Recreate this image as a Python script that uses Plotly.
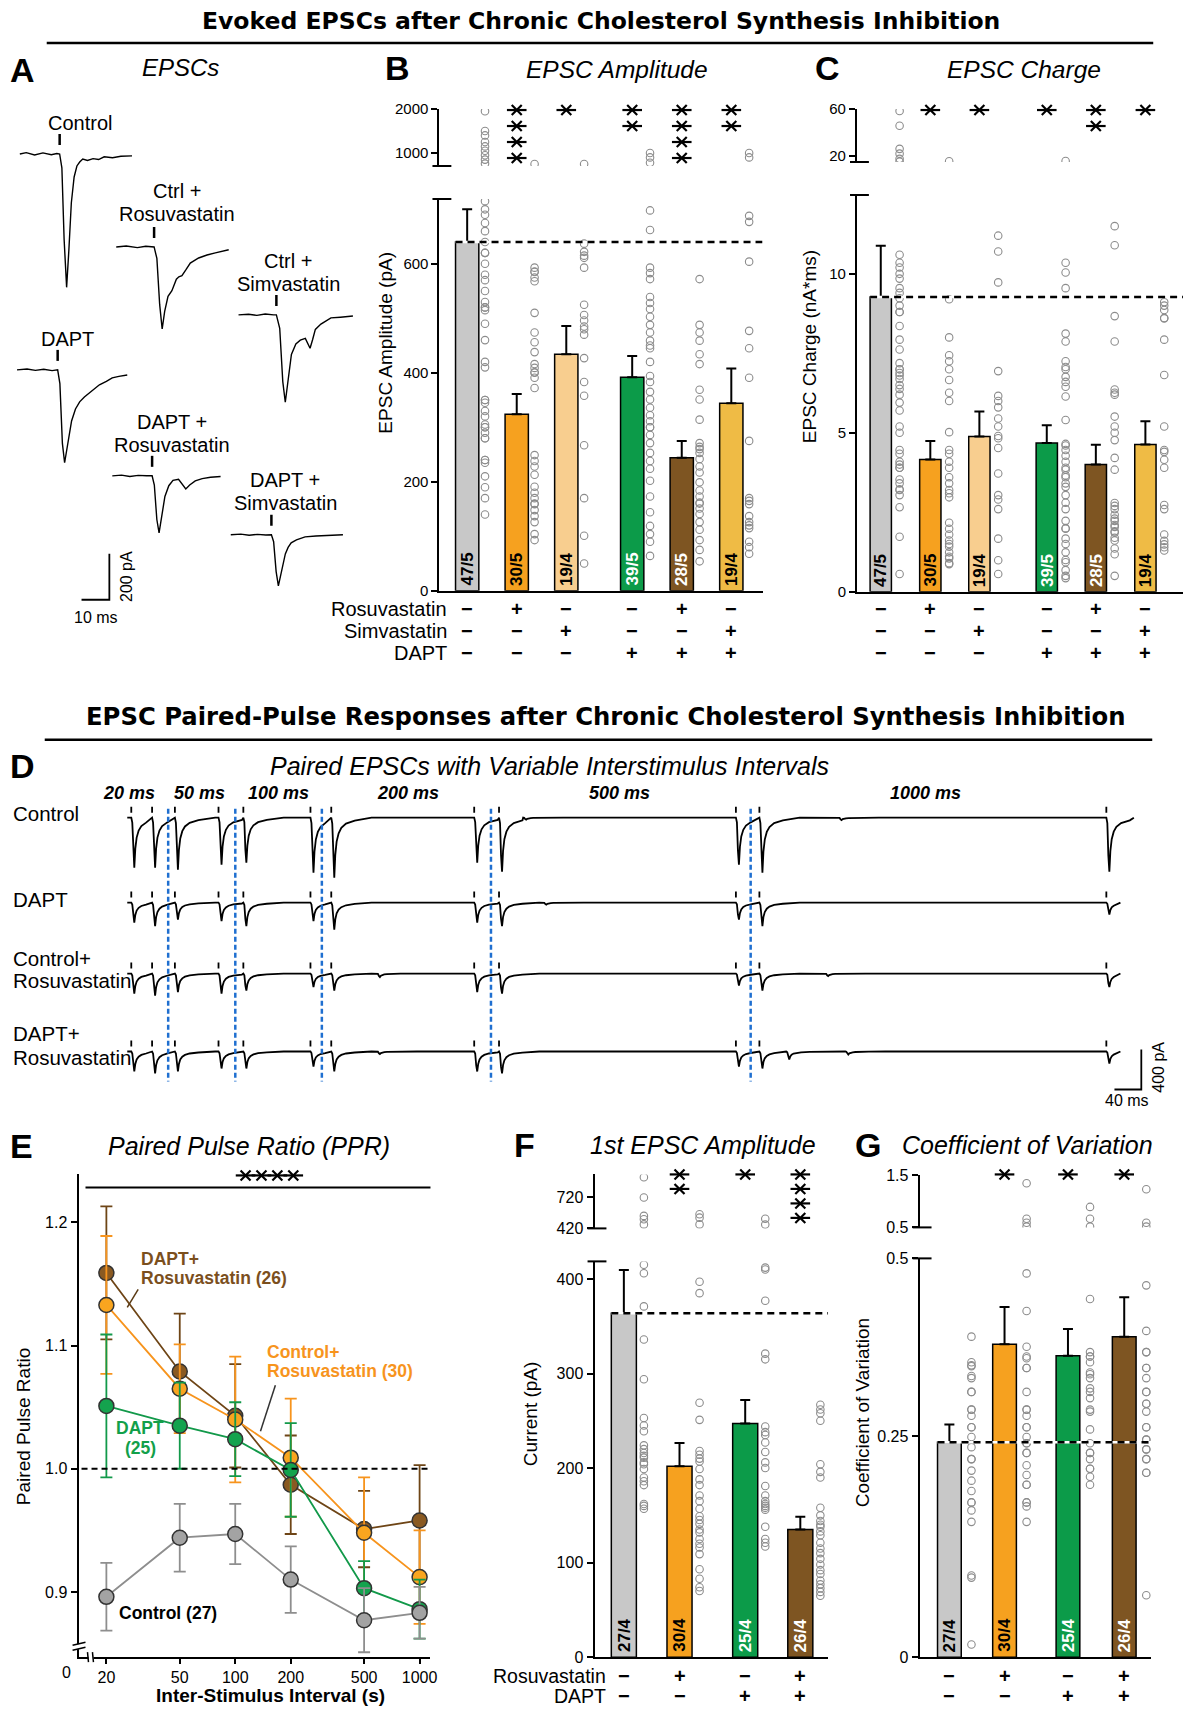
import plotly.graph_objects as go

W, H = 1200, 1721
FONT = "Liberation Sans, Arial, Helvetica, sans-serif"
NARROW = "Liberation Sans Narrow, Arial Narrow, Liberation Sans, sans-serif"
TITLEF = "DejaVu Sans, Liberation Sans, sans-serif"

GRAY = "#c8c8c8"; ORANGE = "#f6a11f"; LIGHT = "#f8ce8f"; GREEN = "#0c9b49"
BROWN = "#7e5522"; YELLOW = "#efbb45"; DOT = "#8c8c8c"

# ============================ DATA ============================
# ---- Panel A : example EPSCs (time rel. to stimulus, ms ; current, pA)
A_ctrl_t = [-14.3, -12, -9, -6, -3, -1, 0, 0.8, 1.6, 2.5, 3.3, 4.2, 5.2, 6.2, 7.2, 8.3, 10, 12, 14, 16, 19, 22, 26]
A_ctrl_i = [0, 6, -4, 5, -3, 2, 0, -60, -370, -580, -420, -212, -100, -52, -35, -22, -28, -20, -24, -12, -16, -10, -8]
A_rosu_t = [-13.6, -10, -6, -3, 0, 1.0, 2.0, 2.9, 3.8, 5.0, 6.4, 8.0, 8.9, 10, 11.4, 13, 16, 19, 22, 26.8]
A_rosu_i = [0, 4, -3, 3, 0, -50, -250, -357, -280, -215, -190, -140, -130, -125, -100, -70, -48, -35, -26, -12]
A_simva_t = [-13.6, -10, -7, -4, -1, 0, 1.2, 2.3, 3.2, 4.2, 5.4, 7, 8.6, 10.4, 11.3, 12.1, 13, 14, 16, 19.6, 23, 27.5]
A_simva_i = [0, 3, -2, 4, 0, 0, -58, -290, -380, -290, -172, -126, -110, -102, -122, -145, -108, -63, -40, -13, -10, -5]
A_dapt_t = [-14.6, -11, -8, -5, -2, 0, 0.8, 1.7, 2.5, 3.5, 5, 6.4, 7.9, 9.6, 11.4, 13, 15, 17.5, 19.6, 22, 25]
A_dapt_i = [0, 4, -2, 3, -3, 0, -60, -320, -404, -330, -222, -170, -139, -118, -100, -85, -65, -50, -35, -28, -22]
A_drosu_t = [-14.3, -11, -8, -5, -2, 0, 0.8, 1.7, 2.5, 3.4, 4.6, 6, 7.5, 9.5, 11, 12.1, 13.5, 15.5, 18, 21, 24.6]
A_drosu_i = [0, 3, -3, 2, 0, 0, -40, -190, -248, -180, -90, -43, -20, -15, -40, -57, -40, -22, -12, -6, -3]
A_dsimva_t = [-14.6, -11, -8, -5, -2, 0, 0.8, 1.7, 2.5, 3.4, 4.2, 5, 6, 7.1, 9, 12.1, 16, 20, 25.7]
A_dsimva_i = [0, 3, -2, 2, -1, 0, -30, -160, -222, -170, -115, -83, -55, -35, -22, -9, -5, -3, 0]
A_labels = [["Control"], ["Ctrl +", "Rosuvastatin"], ["Ctrl +", "Simvastatin"],
            ["DAPT"], ["DAPT +", "Rosuvastatin"], ["DAPT +", "Simvastatin"]]

# ---- Panel B : EPSC amplitude (pA)
B_mean = [640, 324, 434, 392, 244, 344]
B_sem = [60, 37, 52, 39, 31, 64]
B_n = ["47/5", "30/5", "19/4", "39/5", "28/5", "19/4"]
B_stars = [0, 4, 1, 2, 4, 2]
B_pts_ctrl = [1950, 1500, 1400, 1250, 1150, 1050, 950, 850, 760, 715, 700, 690, 675, 660, 640, 620, 620, 600, 580,
              570, 550, 530, 520, 520, 515, 490, 460, 420, 410, 350, 350, 345, 330, 320, 305, 300, 300, 290, 280,
              280, 240, 240, 235, 210, 190, 170, 140]
B_pts_rosu = [750, 593, 586, 585, 575, 568, 510, 474, 456, 438, 416, 409, 401, 400, 391, 372, 249, 238, 228, 213,
              191, 180, 170, 160, 159, 148, 137, 126, 104, 93]
B_pts_simva = [750, 637, 622, 615, 611, 593, 525, 506, 496, 485, 480, 470, 427, 383, 358, 267, 170, 101, 50]
B_pts_dapt = [1000, 900, 780, 698, 662, 593, 583, 572, 539, 528, 517, 503, 488, 474, 459, 450, 445, 420, 394, 383,
              365, 351, 336, 322, 311, 300, 300, 286, 271, 253, 238, 224, 202, 173, 144, 119, 104, 90, 64]
B_pts_drosu = [572, 488, 474, 459, 434, 416, 369, 351, 314, 271, 264, 260, 253, 242, 228, 217, 199, 184, 173, 162,
               160, 151, 141, 126, 112, 93, 75, 54]
B_pts_dsimva = [1000, 900, 688, 677, 604, 477, 445, 391, 275, 170, 165, 159, 137, 126, 120, 115, 90, 80, 68]

# treatment table for B and C
BC_rosu = ["−", "+", "−", "−", "+", "−"]
BC_simva = ["−", "−", "+", "−", "−", "+"]
BC_dapt = ["−", "−", "−", "+", "+", "+"]

# ---- Panel C : EPSC charge (nA*ms)
C_mean = [9.27, 4.16, 4.88, 4.68, 4.0, 4.63]
C_sem = [1.61, 0.58, 0.79, 0.56, 0.62, 0.73]
C_n = ["47/5", "30/5", "19/4", "39/5", "28/5", "19/4"]
C_stars = [0, 1, 1, 1, 2, 1]
C_pts_ctrl = [58.3, 45.8, 26.1, 22, 17.6, 15.2, 10.6, 10.35, 10.2, 10.0, 9.85, 9.55, 9.4, 9.23, 9.0, 8.8, 8.8, 8.36,
              7.93, 7.62, 7.19, 7.0, 7.0, 6.88, 6.8, 6.69, 6.5, 6.38, 6.2, 5.95, 5.7, 5.2, 5.0, 4.46, 4.34, 4.09,
              4.0, 3.9, 3.9, 3.53, 3.41, 3.22, 3.2, 3.04, 2.66, 1.73, 0.56]
C_pts_rosu = [15.6, 9.2, 8.0, 7.44, 7.25, 7.0, 6.66, 6.26, 6.0, 5.02, 4.46, 4.34, 4.09, 3.9, 3.6, 3.41, 3.2, 3.1,
              2.97, 2.17, 1.98, 1.8, 1.61, 1.5, 1.42, 1.24, 1.1, 1.05, 0.9, 0.87]
C_pts_simva = [11.2, 10.7, 9.73, 6.94, 6.16, 6.0, 5.8, 5.45, 5.2, 4.9, 4.83, 4.52, 3.72, 3.04, 2.9, 2.6, 1.67, 0.99, 0.56]
C_pts_dapt = [15.8, 10.35, 10.04, 9.55, 8.12, 7.87, 7.25, 7.07, 7.0, 6.76, 6.6, 6.45, 6.14, 5.4, 4.65, 4.6, 4.46,
              4.28, 4.09, 3.9, 3.84, 3.66, 3.6, 3.41, 3.3, 3.04, 2.8, 2.6, 2.23, 2.0, 1.98, 1.67, 1.5, 1.24, 1.0,
              0.93, 0.68, 0.5, 0.43]
C_pts_drosu = [11.5, 10.9, 8.67, 7.87, 6.36, 6.26, 6.2, 5.51, 5.2, 5.0, 4.77, 4.21, 3.84, 2.79, 2.7, 2.6, 2.42, 2.3,
               2.23, 2.1, 2.04, 1.9, 1.86, 1.7, 1.61, 1.36, 1.18, 0.5]
C_pts_dsimva = [9.11, 9.0, 8.86, 8.61, 8.6, 7.93, 6.82, 5.2, 4.46, 4.4, 4.15, 3.9, 2.73, 2.6, 1.8, 1.6, 1.49, 1.4, 1.3]

# ---- Panel D : paired EPSC sweeps (display time, ms ; current, pA)
D_stim_ms = [6, 37, 71, 136, 173, 273, 304, 517, 554, 907, 942, 1459]
D_sweep_ms = [61, 161, 290, 542, 929]
D_tmpl_t = [0, 1.5, 3, 4.5, 6, 8, 11, 15, 22, 35, 60]
D_tmpl_v = [0, -0.1, -0.7, -1.0, -0.62, -0.4, -0.26, -0.17, -0.1, -0.05, 0]
D_amp_ctrl = [500, 500, 520, 470, 450, 550, 600, 450, 540, 470, 550, 540]
D_amp_dapt = [200, 235, 170, 185, 235, 185, 270, 200, 235, 170, 235, 120]
D_amp_crosu = [200, 220, 185, 200, 170, 135, 170, 185, 200, 120, 170, 135]
D_amp_drosu = [200, 220, 200, 170, 170, 150, 200, 200, 220, 150, 170, 120]
D_mini_ctrl_t = [590, 1060]; D_mini_ctrl_a = [20, 25]
D_mini_dapt_t = [620]; D_mini_dapt_a = [20]
D_mini_crosu_t = [372, 1040]; D_mini_crosu_a = [35, 25]
D_mini_drosu_t = [372, 982, 1070]; D_mini_drosu_a = [25, 80, 30]
D_isi_labels = ["20 ms", "50 ms", "100 ms", "200 ms", "500 ms", "1000 ms"]

# ---- Panel E : paired pulse ratio
E_isi = [20, 50, 100, 200, 500, 1000]
E_ctrl = [0.896, 0.944, 0.947, 0.910, 0.877, 0.883]
E_ctrl_sem = [0.0275, 0.0275, 0.0245, 0.027, 0.026, 0.021]
E_crosu = [1.133, 1.065, 1.040, 1.009, 0.948, 0.912]
E_crosu_sem = [0.056, 0.036, 0.051, 0.048, 0.045, 0.038]
E_drosu = [1.159, 1.079, 1.043, 0.987, 0.951, 0.958]
E_drosu_sem = [0.054, 0.047, 0.042, 0.040, 0.031, 0.045]
E_dapt = [1.051, 1.035, 1.024, 0.999, 0.903, 0.886]
E_dapt_sem = [0.058, 0.035, 0.030, 0.038, 0.022, 0.024]

# ---- Panel F : 1st EPSC amplitude (pA)
F_mean = [363.8, 202, 247, 135]
F_sem = [45.7, 24.6, 25, 13.5]
F_n = ["27/4", "30/4", "25/4", "26/4"]
F_stars = [0, 2, 1, 4]
F_pts_ctrl = [916, 720, 541, 508, 459, 415, 406, 371, 336, 294, 253, 245, 239, 224, 220, 216, 213, 211, 206, 204,
              199, 190, 186, 182, 162, 160, 157]
F_pts_crosu = [557, 524, 459, 397, 385, 269, 251, 218, 214, 210, 207, 199, 188, 182, 171, 165, 157, 149, 145, 141,
               135, 132, 125, 120, 116, 109, 93, 83, 74, 70]
F_pts_dapt = [513, 457, 412, 410, 377, 321, 315, 244, 238, 235, 227, 217, 206, 200, 181, 171, 165, 162, 160, 158,
              156, 138, 125, 121, 117]
F_pts_drosu = [267, 262, 258, 250, 204, 196, 190, 158, 150, 144, 140, 138, 133, 129, 121, 115, 110, 104, 98, 92,
               88, 81, 77, 73, 69, 65]
FG_rosu = ["−", "+", "−", "+"]
FG_dapt = ["−", "−", "+", "+"]

# ---- Panel G : coefficient of variation
G_mean = [0.243, 0.354, 0.341, 0.3625]
G_sem = [0.020, 0.042, 0.030, 0.0445]
G_n = ["27/4", "30/4", "25/4", "26/4"]
G_stars = [0, 1, 1, 1]
G_pts_ctrl = [0.3625, 0.3335, 0.33, 0.329, 0.318, 0.3156, 0.30, 0.30, 0.28, 0.28, 0.273, 0.26, 0.26, 0.249, 0.2375,
              0.224, 0.224, 0.211, 0.1996, 0.188, 0.175, 0.175, 0.166, 0.153, 0.0924, 0.09, 0.0143]
G_pts_crosu = [1.35, 0.667, 0.59, 0.515, 0.434, 0.3915, 0.351, 0.34, 0.338, 0.327, 0.327, 0.30, 0.28, 0.28, 0.273,
               0.26, 0.26, 0.249, 0.242, 0.242, 0.231, 0.231, 0.217, 0.206, 0.195, 0.195, 0.175, 0.175, 0.1705, 0.153]
G_pts_dapt = [0.894, 0.667, 0.515, 0.405, 0.345, 0.34, 0.34, 0.3335, 0.322, 0.32, 0.3156, 0.304, 0.30, 0.293, 0.28,
              0.2777, 0.2576, 0.242, 0.231, 0.231, 0.224, 0.213, 0.213, 0.204, 0.195]
G_pts_drosu = [1.235, 0.59, 0.515, 0.4205, 0.369, 0.345, 0.345, 0.327, 0.327, 0.3156, 0.30, 0.30, 0.2866, 0.2866,
               0.2777, 0.26, 0.26, 0.246, 0.246, 0.235, 0.235, 0.224, 0.224, 0.2085, 0.2085, 0.07]

# ============================ HELPERS ============================
fig = go.Figure()
annots, shapes, axes = [], [], {}
STAR_X, STAR_Y = [], []


def Y(y):
    # small vertical calibration of the page layout
    return y * 1.01 - 9


def xp(x):
    return x / W


def yp(y):
    return 1 - Y(y) / H


def ann(x, y, s, size=20, color="black", xanchor="center", yanchor="middle", angle=0,
        family=FONT, xref="paper", yref="paper", yshift=0):
    annots.append(dict(x=xp(x) if xref == "paper" else x, y=yp(y) if yref == "paper" else y,
                       xref=xref, yref=yref, text=s, showarrow=False,
                       font=dict(family=family, size=size, color=color),
                       xanchor=xanchor, yanchor=yanchor, textangle=angle, yshift=yshift))


def seg(x0, y0, x1, y1, color="black", width=2, dash=None):
    ln = dict(color=color, width=width)
    if dash:
        ln["dash"] = dash
    shapes.append(dict(type="line", xref="paper", yref="paper", x0=xp(x0), y0=yp(y0),
                       x1=xp(x1), y1=yp(y1), line=ln))


def make_axes(k, xd, yd, xr, yr, xopt=None, yopt=None, raw=False):
    xn, yn = ("xaxis", "yaxis") if k == 1 else (f"xaxis{k}", f"yaxis{k}")
    xid, yid = ("x", "y") if k == 1 else (f"x{k}", f"y{k}")
    y0, y1 = (yd if raw else (Y(yd[0]), Y(yd[1])))
    xa = dict(domain=[xd[0] / W, xd[1] / W], range=xr, anchor=yid, visible=False,
              showgrid=False, zeroline=False, fixedrange=True)
    ya = dict(domain=[max(0.0, 1 - y1 / H), min(1.0, 1 - y0 / H)], range=yr, anchor=xid, visible=False,
              showgrid=False, zeroline=False, fixedrange=True)
    if xopt:
        xa.update(xopt)
    if yopt:
        ya.update(yopt)
    axes[xn] = xa
    axes[yn] = ya
    return xid, yid


def yaxis_style(vals, texts, size):
    return dict(visible=True, showline=True, linecolor="black", linewidth=2, ticks="outside",
                ticklen=6, tickwidth=1.8, tickcolor="black", tickvals=vals, ticktext=texts,
                tickfont=dict(family=FONT, size=size, color="black"))


XLINE = dict(visible=True, showline=True, linecolor="black", linewidth=2, ticks="",
             showticklabels=False)


def star(xpx, ypx):
    STAR_X.append(xpx)
    STAR_Y.append(Y(ypx))


def bar_panel(kl, ku, xdom, ydl, ydu, xr, yrl, yru, pos, means, sems, pts, colors, ncolors,
              nlabels, bw, doff, tl, tu, tsize, stars, star_y0, star_dy, sign_rows, sign_ys,
              capx):
    xl, yl = make_axes(kl, xdom, ydl, xr, yrl, XLINE, yaxis_style(tl[0], tl[1], tsize))
    xu, yu = make_axes(ku, xdom, ydu, xr, yru, None, yaxis_style(tu[0], tu[1], tsize))
    fig.add_trace(go.Bar(x=pos, y=means, width=bw, xaxis=xl, yaxis=yl, showlegend=False,
                         marker=dict(color=colors, line=dict(color="black", width=1.5)),
                         error_y=dict(type="data", array=sems, arrayminus=[0] * len(pos),
                                      symmetric=False, color="black", thickness=2, width=5)))
    for i, vals in enumerate(pts):
        lo = [v for v in vals if v <= yrl[1]]
        hi = [v for v in vals if v > yrl[1]]
        for vv, xa_, ya_ in ((lo, xl, yl), (hi, xu, yu)):
            if vv:
                fig.add_trace(go.Scatter(x=[pos[i] + doff] * len(vv), y=vv, mode="markers",
                                         xaxis=xa_, yaxis=ya_, showlegend=False,
                                         marker=dict(symbol="circle-open", size=7.5, color=DOT,
                                                     line=dict(width=1.1))))
    # control-mean reference line
    fig.add_trace(go.Scatter(x=[pos[0] - bw / 2, xr[1]], y=[means[0], means[0]], mode="lines",
                             xaxis=xl, yaxis=yl, showlegend=False,
                             line=dict(color="white", width=2.5)))
    fig.add_trace(go.Scatter(x=[pos[0] - bw / 2, xr[1]], y=[means[0], means[0]], mode="lines",
                             xaxis=xl, yaxis=yl, showlegend=False,
                             line=dict(color="black", width=2.5, dash="7px,5px")))
    for i, nl in enumerate(nlabels):
        ann(pos[i], 0, f"<b>{nl}</b>", size=17, color=ncolors[i], angle=-90, family=NARROW,
            xref=xl, yref=yl, yanchor="bottom", yshift=3)
    for i, c in enumerate(stars):
        sx = xdom[0] + (pos[i] - xr[0]) / (xr[1] - xr[0]) * (xdom[1] - xdom[0])
        for j in range(c):
            star(sx, star_y0 + j * star_dy)
    for row, yy in zip(sign_rows, sign_ys):
        for i, s in enumerate(row):
            ann(pos[i], yy, f"<b>{s}</b>", size=20, xref=xl)
    # axis-break caps
    seg(capx - 7, ydu[1], capx + 12, ydu[1], width=2)
    seg(capx - 7, ydl[0], capx + 12, ydl[0], width=2)
    return xl, yl


# ============================ TITLES ============================
ann(605, 21, "<b>Evoked EPSCs after Chronic Cholesterol Synthesis Inhibition</b>", size=23.5, family=TITLEF)
seg(47, 43, 1160, 43, width=2.5)
ann(610, 717, "<b>EPSC Paired-Pulse Responses after Chronic Cholesterol Synthesis Inhibition</b>", size=24.3,
    family=TITLEF)
seg(45, 740, 1159, 740, width=2.5)

# ============================ PANEL A ============================
A_PXMS, A_PXPA = 2.8, 0.23
xa_, ya_ = make_axes(1, (0, 380), (90, 650), [0, 380 / A_PXMS], [-650 / A_PXPA, -90 / A_PXPA])
A_traces = [(A_ctrl_t, A_ctrl_i), (A_rosu_t, A_rosu_i), (A_simva_t, A_simva_i),
            (A_dapt_t, A_dapt_i), (A_drosu_t, A_drosu_i), (A_dsimva_t, A_dsimva_i)]
A_place = [(60, 154, 80, [123]), (155, 247, 178, [191, 214]), (278, 315, 290, [261, 284]),
           (58, 370, 68, [339]), (153, 476, 173, [422, 445]), (273, 535, 287, [480, 503])]
for (tt, ii), (sx, by, lx, lys), lab in zip(A_traces, A_place, A_labels):
    x0 = sx / A_PXMS
    y0 = -by / A_PXPA
    fig.add_trace(go.Scatter(x=[x0 + t for t in tt], y=[y0 + v for v in ii], mode="lines",
                             xaxis=xa_, yaxis=ya_, showlegend=False,
                             line=dict(color="black", width=1.4)))
    fig.add_trace(go.Scatter(x=[x0, x0], y=[y0 + 9 / A_PXPA, y0 + 20 / A_PXPA], mode="lines",
                             xaxis=xa_, yaxis=ya_, showlegend=False,
                             line=dict(color="black", width=2.5)))
    for txt, ly in zip(lab, lys):
        ann(lx, ly, txt, size=20)
sbx, sby = 110 / A_PXMS, -600 / A_PXPA
fig.add_trace(go.Scatter(x=[sbx - 10, sbx, sbx], y=[sby, sby, sby + 200], mode="lines",
                         xaxis=xa_, yaxis=ya_, showlegend=False, line=dict(color="black", width=1.8)))
ann(128, 577, "200 pA", size=16, angle=-90)
ann(97, 618, "10 ms", size=16)
ann(23, 70, "<b>A</b>", size=34)
ann(182, 67, "<i>EPSCs</i>", size=24)

# ============================ PANEL B ============================
B_pos = [0, 1, 2, 3.33, 4.33, 5.33]
B_col = [GRAY, ORANGE, LIGHT, GREEN, BROWN, YELLOW]
N_col6 = ["black", "black", "black", "white", "white", "black"]
xb, yb = bar_panel(2, 3, (442, 767), (199, 591), (109, 166), [-0.56, 5.96], [0, 719], [705, 2000],
                   B_pos, B_mean, B_sem,
                   [B_pts_ctrl, B_pts_rosu, B_pts_simva, B_pts_dapt, B_pts_drosu, B_pts_dsimva],
                   B_col, N_col6, B_n, 0.47, 0.36,
                   ([0, 200, 400, 600], ["0", "200", "400", "600"]), ([1000, 2000], ["1000", "2000"]), 15,
                   B_stars, 110, 16, [BC_rosu, BC_simva, BC_dapt], [609, 631, 653], 442)
for lab, yy in zip(["Rosuvastatin", "Simvastatin", "DAPT"], [609, 631, 653]):
    ann(452, yy, lab, size=20, xanchor="right")
ann(388, 343, "EPSC Amplitude (pA)", size=19, angle=-90)
ann(400, 68, "<b>B</b>", size=34)
ann(621, 69, "<i>EPSC Amplitude</i>", size=24.5)

# ============================ PANEL C ============================
C_pos = [0, 1, 1.99, 3.35, 4.34, 5.34]
xc, yc = bar_panel(4, 5, (862, 1190), (195, 592), (109, 162), [-0.48, 6.1], [0, 12.48], [14.9, 60],
                   C_pos, C_mean, C_sem,
                   [C_pts_ctrl, C_pts_rosu, C_pts_simva, C_pts_dapt, C_pts_drosu, C_pts_dsimva],
                   B_col, N_col6, C_n, 0.43, 0.38,
                   ([0, 5, 10], ["0", "5", "10"]), ([20, 60], ["20", "60"]), 15,
                   C_stars, 110, 16, [BC_rosu, BC_simva, BC_dapt], [609, 631, 653], 862)
ann(815, 347, "EPSC Charge (nA*ms)", size=19, angle=-90)
ann(832, 68, "<b>C</b>", size=34)
ann(1030, 69, "<i>EPSC Charge</i>", size=24.5)

# ============================ PANEL D ============================
D_PXMS, D_PXPA = 0.675, 0.1
xd_, yd_ = make_axes(6, (100, 1180), (780, 1110), [(100 - 128) / D_PXMS, (1180 - 128) / D_PXMS],
                     [-1110 / D_PXPA, -780 / D_PXPA])


def d_row(amps, mini_t, mini_a, t_end):
    ev = sorted(list(zip(D_stim_ms, amps)) + list(zip(mini_t, mini_a)))
    xs, ys = [0.0], [0.0]
    for k, (s, a) in enumerate(ev):
        nxt = ev[k + 1][0] if k + 1 < len(ev) else t_end
        if s > xs[-1]:
            xs.append(s)
            ys.append(0.0)
        for tt, tv in zip(D_tmpl_t, D_tmpl_v):
            if s + tt < nxt:
                xs.append(s + tt)
                ys.append(a * tv)
    xs.append(t_end)
    ys.append(0.0)
    return xs, ys


D_base_py = [818, 903, 974, 1052]
D_end = [1500, 1480, 1480, 1480]
D_data = [(D_amp_ctrl, D_mini_ctrl_t, D_mini_ctrl_a), (D_amp_dapt, D_mini_dapt_t, D_mini_dapt_a),
          (D_amp_crosu, D_mini_crosu_t, D_mini_crosu_a), (D_amp_drosu, D_mini_drosu_t, D_mini_drosu_a)]
tick_x, tick_y = [], []
for (amps, mt, ma), by, te in zip(D_data, D_base_py, D_end):
    off = -by / D_PXPA
    xs, ys = d_row(amps, mt, ma, te)
    fig.add_trace(go.Scatter(x=xs, y=[off + v for v in ys], mode="lines", xaxis=xd_, yaxis=yd_,
                             showlegend=False, line=dict(color="black", width=1.8)))
    for s in D_stim_ms:
        tick_x += [s, s, None]
        tick_y += [off + 50, off + 110, None]
fig.add_trace(go.Scatter(x=tick_x, y=tick_y, mode="lines", xaxis=xd_, yaxis=yd_, showlegend=False,
                         line=dict(color="black", width=1.8)))
bx, by_ = [], []
for s in D_sweep_ms:
    bx += [s, s, None]
    by_ += [-809 / D_PXPA, -1082 / D_PXPA, None]
fig.add_trace(go.Scatter(x=bx, y=by_, mode="lines", xaxis=xd_, yaxis=yd_, showlegend=False,
                         line=dict(color="#1f6fd0", width=2.5, dash="5px,3px")))
sx = (1148 - 128) / D_PXMS
sy = -1090 / D_PXPA
fig.add_trace(go.Scatter(x=[sx - 40, sx, sx], y=[sy, sy, sy + 400], mode="lines", xaxis=xd_, yaxis=yd_,
                         showlegend=False, line=dict(color="black", width=1.8)))
ann(1165, 1068, "400 pA", size=16, angle=-90)
ann(1134, 1101, "40 ms", size=16)
for lab, yy in zip(["Control", "DAPT"], [814, 900]):
    ann(11, yy, lab, size=20.5, xanchor="left")
ann(11, 959, "Control+", size=20.5, xanchor="left")
ann(11, 981, "Rosuvastatin", size=20.5, xanchor="left")
ann(11, 1034, "DAPT+", size=20.5, xanchor="left")
ann(11, 1058, "Rosuvastatin", size=20.5, xanchor="left")
for lab, xx in zip(D_isi_labels, [130, 201, 280, 410, 623, 931]):
    ann(xx, 793, f"<b><i>{lab}</i></b>", size=18)
ann(23, 766, "<b>D</b>", size=34)
ann(553, 766, "<i>Paired EPSCs with Variable Interstimulus Intervals</i>", size=25)

# ============================ PANEL E ============================
xe, ye = make_axes(7, (79, 433), (1175, 1658), [1.150, 3.059], [0.847, 1.239],
                   dict(visible=True, type="log", showline=True, linecolor="black", linewidth=2,
                        ticks="outside", ticklen=5, tickwidth=1.8, tickcolor="black",
                        tickvals=E_isi, ticktext=[str(v) for v in E_isi],
                        tickfont=dict(family=FONT, size=16, color="black")),
                   yaxis_style([0.9, 1.0, 1.1, 1.2], ["0.9", "1.0", "1.1", "1.2"], 16))
shapes.append(dict(type="line", xref="paper", x0=xp(82), x1=xp(433), yref=ye, y0=1.0, y1=1.0,
                   line=dict(color="black", width=2, dash="6px,4px")))
E_series = [(E_drosu, E_drosu_sem, "#8a5a22", "#6e4516"),
            (E_crosu, E_crosu_sem, "#f9a51f", "#f7941d"),
            (E_dapt, E_dapt_sem, "#14a34e", "#12994a"),
            (E_ctrl, E_ctrl_sem, "#a3a3a3", "#8e8e8e")]
for vals, sem, fill, lc in E_series:
    fig.add_trace(go.Scatter(x=E_isi, y=vals, mode="lines+markers", xaxis=xe, yaxis=ye, showlegend=False,
                             line=dict(color=lc, width=1.8),
                             marker=dict(size=15, color=fill, line=dict(color="#333333", width=1.5)),
                             error_y=dict(type="data", array=sem, color=lc, thickness=1.8, width=6)))
seg(86, 1188, 433, 1188, width=2)
for j in range(4):
    star(247 + 16 * j, 1176)
ann(140, 1260, "<b>DAPT+</b>", size=17.5, color="#7b4f1d", xanchor="left")
ann(140, 1279, "<b>Rosuvastatin (26)</b>", size=17.5, color="#7b4f1d", xanchor="left")
seg(128, 1308, 139, 1290, color="#5a3a14", width=1.5)
ann(267, 1353, "<b>Control+</b>", size=17.5, color="#f7941d", xanchor="left")
ann(267, 1372, "<b>Rosuvastatin (30)</b>", size=17.5, color="#f7941d", xanchor="left")
seg(262, 1432, 277, 1386, color="#333333", width=1.5)
ann(141, 1429, "<b>DAPT</b>", size=17.5, color="#12a04a")
ann(141, 1449, "<b>(25)</b>", size=17.5, color="#12a04a")
ann(118, 1614, "<b>Control (27)</b>", size=17.5, xanchor="left")
ann(67, 1673, "0", size=16)
# axis break marks
shapes.append(dict(type="rect", xref="paper", yref="paper", x0=xp(75), x1=xp(83), y0=yp(1650), y1=yp(1645),
                   line=dict(width=0), fillcolor="white"))
seg(73, 1646, 86, 1643, width=1.5)
seg(73, 1651, 86, 1648, width=1.5)
shapes.append(dict(type="rect", xref="paper", yref="paper", x0=xp(89), x1=xp(94), y0=yp(1661), y1=yp(1655),
                   line=dict(width=0), fillcolor="white"))
seg(88, 1653, 89, 1663, width=1.5)
seg(93, 1653, 94, 1663, width=1.5)
ann(23, 1427, "Paired Pulse Ratio", size=19, angle=-90)
ann(272, 1696, "<b>Inter-Stimulus Interval (s)</b>", size=19)
ann(22, 1147, "<b>E</b>", size=34)
ann(250, 1147, "<i>Paired Pulse Ratio (PPR)</i>", size=25)

# ============================ PANEL F ============================
F_pos = [0, 1, 2.18, 3.17]
F_col = [GRAY, ORANGE, GREEN, BROWN]
N_col4 = ["black", "black", "white", "white"]
xf, yf = bar_panel(8, 9, (598, 833), (1262, 1658), (1175, 1229), [-0.527, 3.67], [0, 418.6], [420, 943],
                   F_pos, F_mean, F_sem, [F_pts_ctrl, F_pts_crosu, F_pts_dapt, F_pts_drosu],
                   F_col, N_col4, F_n, 0.45, 0.36,
                   ([0, 100, 200, 300, 400], ["0", "100", "200", "300", "400"]), ([420, 720], ["420", "720"]), 16,
                   F_stars, 1175, 14.5, [FG_rosu, FG_dapt], [1677, 1697], 598)
ann(612, 1677, "Rosuvastatin", size=19.5, xanchor="right")
ann(612, 1697, "DAPT", size=19.5, xanchor="right")
ann(533, 1414, "Current (pA)", size=19, angle=-90)
ann(528, 1146, "<b>F</b>", size=34)
ann(707, 1146, "<i>1st EPSC Amplitude</i>", size=25)

# ============================ PANEL G ============================
G_pos = [0, 1, 2.15, 3.17]
xg, yg = bar_panel(10, 11, (925, 1158), (1259, 1658), (1176, 1228), [-0.54, 3.66], [0, 0.451], [0.5, 1.5],
                   G_pos, G_mean, G_sem, [G_pts_ctrl, G_pts_crosu, G_pts_dapt, G_pts_drosu],
                   F_col, N_col4, G_n, 0.43, 0.40,
                   ([0, 0.25, 0.451], ["0", "0.25", "0.5"]), ([0.5, 1.5], ["0.5", "1.5"]), 16,
                   G_stars, 1175, 14.5, [FG_rosu, FG_dapt], [1677, 1697], 925)
ann(867, 1413, "Coefficient of Variation", size=19, angle=-90)
ann(873, 1146, "<b>G</b>", size=34)
ann(1034, 1146, "<i>Coefficient of Variation</i>", size=25)

# ============================ SIGNIFICANCE STARS (page-pixel overlay) ============================
xs_, ys_ = make_axes(12, (0, W), (0, H), [0, W], [H, 0], raw=True)
fig.add_trace(go.Scatter(x=STAR_X, y=STAR_Y, mode="markers", xaxis=xs_, yaxis=ys_, showlegend=False,
                         hoverinfo="skip",
                         marker=dict(symbol="line-ew-open", size=14, color="black", line=dict(width=2.2))))
fig.add_trace(go.Scatter(x=STAR_X, y=STAR_Y, mode="markers", xaxis=xs_, yaxis=ys_, showlegend=False,
                         hoverinfo="skip",
                         marker=dict(symbol="x-thin-open", size=10, color="black", line=dict(width=2.2))))

# ============================ LAYOUT ============================
fig.update_layout(width=W, height=H, margin=dict(l=0, r=0, t=0, b=0), paper_bgcolor="white",
                  plot_bgcolor="rgba(0,0,0,0)", showlegend=False, annotations=annots, shapes=shapes,
                  font=dict(family=FONT, color="black"), **axes)
fig.write_html("out.html", config={"displayModeBar": False},
               post_script="document.body.style.margin='0px';document.documentElement.style.overflow='hidden';")
